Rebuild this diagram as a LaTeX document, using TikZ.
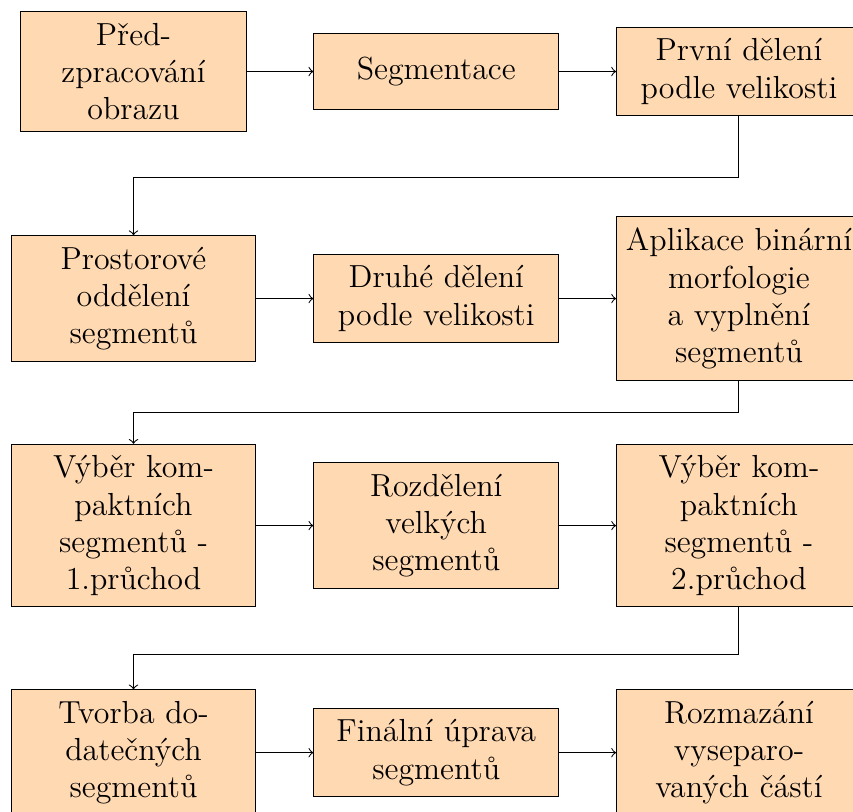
\documentclass[tikz,border=0pt]{standalone}
\usepackage{fontspec}
\usepackage{tikz}
\usetikzlibrary{positioning,calc}
\colorlet{stepFill}{orange!30}
\tikzset{
  process node/.style={draw=black,fill=stepFill,align=center,text width=3cm,minimum height=1cm,inner ysep=4.2pt,font=\large},
  process arrow/.style={->,draw=black}
}

\begin{document}
\begin{tikzpicture}[node distance=3cm and 4cm,on grid]
        \useasboundingbox (-1.764,0.945) rectangle (9.507,-9.784);
        % rada 1
        \node[process node,text width=2.75cm] (predzpracovani) at (0,0) {P\v{r}ed-\\zpracování\\obrazu};
        \node[process node,right=of predzpracovani] (segmentace) {Segmentace};
        \node[process node,right=of segmentace] (prvni) {První dělení\\podle velikosti};
        % rada 2
        \node[process node,below=of predzpracovani] (prostorove) {Prostorové\\oddělení\\segmentů};
        \node[process node,right=of prostorove] (druhe) {Druhé dělení\\podle velikosti};
        \node[process node,right=of druhe] (aplikace) {Aplikace binární\\morfologie\\a vyplnění\\segmentů};
        % rada 3
        \node[process node,below=of prostorove] (vyber1) {Výběr kom-\\paktních\\segmentů -\\1.průchod};
        \node[process node,right=of vyber1] (rozdeleni) {Rozdělení\\velkých\\segmentů};
        \node[process node,right=of rozdeleni] (vyber2) {Výběr kom-\\paktních\\segmentů -\\2.průchod};
        % rada 4
        \node[process node,below=of vyber1] (tvorba) {Tvorba do-\\datečných\\segmentů};
        \node[process node,right=of tvorba] (finalni) {Finální úprava\\segmentů};
        \node[process node,right=of finalni] (rozmazani) {Rozmazání\\vysepa\-ro-\\vaných částí};
        % zlomy
        \coordinate (zlomA) at ($(prvni)+(0,-1.4)$);
        \coordinate (zlomB) at ($(aplikace)+(0,-1.5)$);
        \coordinate (zlomC) at ($(vyber2)+(0,-1.7)$);
        \draw[process arrow] (predzpracovani) -- (segmentace);
        \draw[process arrow] (segmentace) -- (prvni);
        \draw[process arrow] (prvni.south) -- (zlomA) -| (prostorove.north);
        \draw[process arrow] (prostorove) -- (druhe);
        \draw[process arrow] (druhe) -- (aplikace);
        \draw[process arrow] (aplikace.south) -- (zlomB) -| (vyber1.north);
        \draw[process arrow] (vyber1) -- (rozdeleni);
        \draw[process arrow] (rozdeleni) -- (vyber2);
        \draw[process arrow] (vyber2.south) -- (zlomC) -| (tvorba.north);
        \draw[process arrow] (tvorba) -- (finalni);
        \draw[process arrow] (finalni) -- (rozmazani);
      \end{tikzpicture}
\end{document}
